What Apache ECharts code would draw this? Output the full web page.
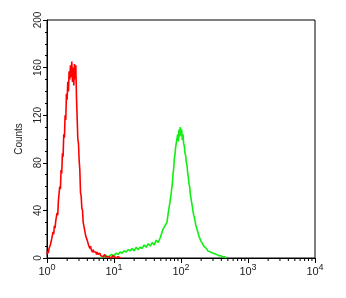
<!DOCTYPE html>
<html><head><meta charset="utf-8">
<script src="https://cdn.jsdelivr.net/npm/echarts@6/dist/echarts.min.js"></script>
<style>html,body{margin:0;padding:0;background:#fff}#c{width:346px;height:298px}</style>
</head><body><div id="c"></div>
<script>
// x values are log10 of fluorescence intensity
const redLog = [0.00,0.01,0.02,0.03,0.04,0.05,0.06,0.07,0.08,0.09,0.10,0.11,0.12,0.13,0.14,0.15,0.16,0.17,0.18,0.19,0.20,0.21,0.22,0.23,0.24,0.25,0.26,0.27,0.28,0.29,0.30,0.31,0.32,0.33,0.34,0.35,0.36,0.37,0.38,0.39,0.40,0.41,0.42,0.43,0.44,0.45,0.46,0.47,0.48,0.49,0.50,0.51,0.52,0.53,0.54,0.55,0.56,0.57,0.58,0.59,0.60,0.61,0.62,0.63,0.64,0.65,0.66,0.67,0.68,0.69,0.70,0.71,0.72,0.73,0.74,0.75,0.76,0.77,0.78,0.79,0.80,0.82,0.84,0.86,0.88,0.90,0.92,0.94,0.96,0.98,1.00,1.03,1.06,1.10];
const redCounts = [3,6,4,8,7,11,10,16,17,22,20,27,25,31,30,38,36,48,47,60,58,74,71,88,85,104,101,120,116,138,133,148,140,157,150,162,152,165,148,160,145,163,150,162,135,118,100,96,82,74,55,52,42,40,30,31,24,25,18,19,15,16,11,12,8,10,7,8,5,7,5,6,4,5,3,5,3,4,2,4,2,3,1,3,1,2,1,2,0,2,1,0,1,0];
const greenLog = [0.80,0.84,0.88,0.92,0.96,1.00,1.03,1.06,1.09,1.12,1.15,1.18,1.21,1.24,1.27,1.30,1.33,1.36,1.39,1.42,1.45,1.48,1.51,1.54,1.57,1.60,1.63,1.66,1.69,1.71,1.73,1.75,1.77,1.79,1.81,1.83,1.85,1.87,1.88,1.89,1.90,1.91,1.92,1.93,1.94,1.95,1.96,1.97,1.98,1.99,2.00,2.01,2.02,2.03,2.04,2.05,2.06,2.07,2.08,2.09,2.10,2.11,2.12,2.13,2.14,2.15,2.16,2.17,2.18,2.19,2.20,2.21,2.22,2.23,2.24,2.25,2.26,2.27,2.28,2.30,2.32,2.34,2.36,2.38,2.40,2.42,2.44,2.46,2.48,2.50,2.53,2.56,2.59,2.62,2.65,2.68];
const greenCounts = [0,1,2,1,3,2,4,3,5,4,6,5,7,6,8,6,9,7,9,8,11,9,12,10,13,11,15,13,17,16,24,25,28,30,38,45,53,62,70,75,83,87,93,97,100,104,98,108,102,110,103,108,99,104,96,94,88,86,80,78,71,68,62,60,53,50,46,43,39,36,34,31,28,26,24,22,20,18,17,14,12,10,9,8,6,6,5,4,4,3,3,2,2,1,1,0];
const decadeExps = [0,1,2,3,4];
const minorMultipliers = [2,3,4,5,6,7,8,9];
const yTicks = [0,40,80,120,160,200];

const minorTickVals = [];
for (let d = 0; d < 4; d++) for (const m of minorMultipliers) minorTickVals.push([d + Math.log10(m), 0]);

const chart = echarts.init(document.getElementById('c'), null, {renderer:'canvas'});
chart.setOption({
  animation:false,
  backgroundColor:'#fff',
  grid:{left:47, top:20, right:31, bottom:40, show:true, borderColor:'#000', borderWidth:1, backgroundColor:'transparent'},
  xAxis:{type:'value', min:0, max:4, interval:1,
    axisLine:{show:true, lineStyle:{color:'#000', width:1}},
    axisTick:{show:true, length:5, lineStyle:{color:'#000'}},
    splitLine:{show:false},
    axisLabel:{margin:5, color:'#222', fontFamily:'Liberation Sans',
      formatter:function(v){return '{b|10}{s|'+Math.round(v)+'}';},
      rich:{b:{fontSize:11, fontFamily:'Liberation Sans', color:'#222'}, s:{fontSize:9, fontFamily:'Liberation Sans', color:'#222', padding:[0,0,8,0]}}}
  },
  yAxis:{type:'value', min:0, max:200, interval:40, name:'Counts', nameLocation:'middle', nameGap:23,
    nameTextStyle:{fontSize:10, color:'#222', fontFamily:'Liberation Sans'},
    axisLine:{show:true, lineStyle:{color:'#000', width:1}},
    axisTick:{show:true, length:4, lineStyle:{color:'#000'}},
    minorTick:{show:true, splitNumber:4, length:2, lineStyle:{color:'#000'}},
    splitLine:{show:false},
    axisLabel:{rotate:90, margin:4, fontSize:10, color:'#222', fontFamily:'Liberation Sans'}
  },
  series:[
    {type:'custom', silent:true, clip:false, data:minorTickVals, encode:{x:0,y:1},
      renderItem:function(params, api){
        const p = api.coord([api.value(0), 0]);
        return {type:'line', shape:{x1:p[0], y1:p[1], x2:p[0], y2:p[1]+3}, style:{stroke:'#000', lineWidth:1}};
      }},
    {type:'line', data:greenLog.map((v,i)=>[v, greenCounts[i]]), showSymbol:false, lineStyle:{color:'#11ee11', width:1.6}, itemStyle:{color:'#11ee11'}},
    {type:'line', data:redLog.map((v,i)=>[v, redCounts[i]]), showSymbol:false, lineStyle:{color:'#ff0000', width:1.6}, itemStyle:{color:'#ff0000'}}
  ]
});
</script></body></html>
